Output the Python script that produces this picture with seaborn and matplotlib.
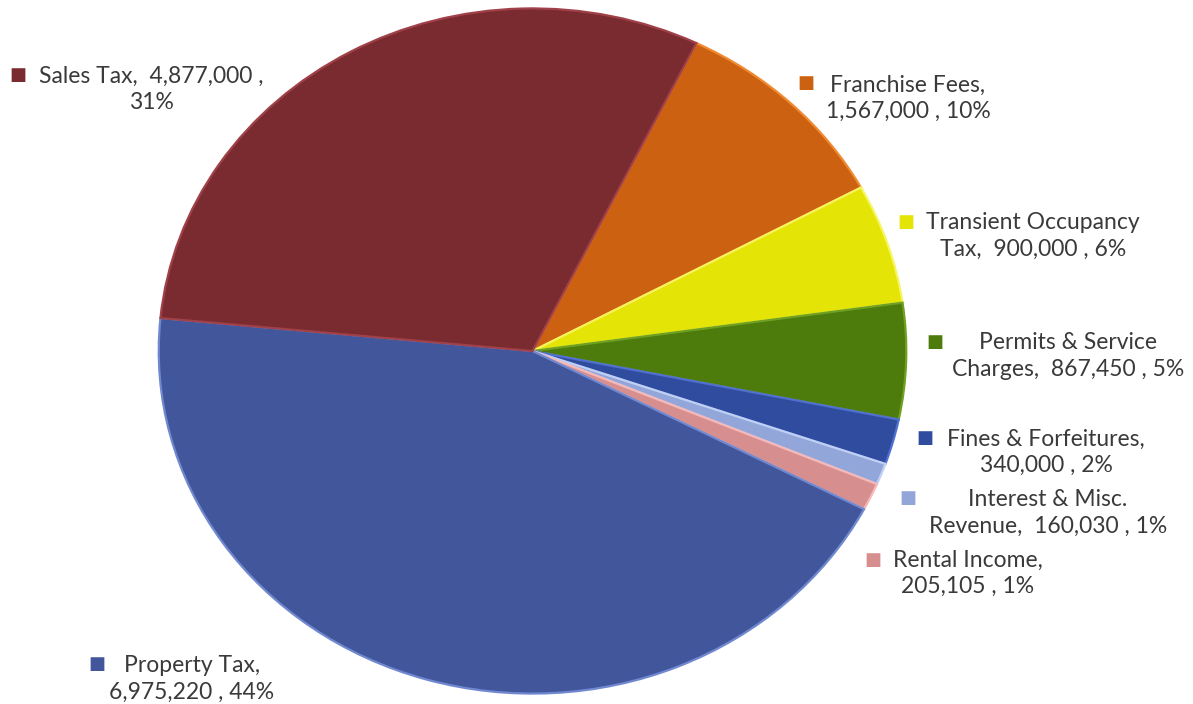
import matplotlib
matplotlib.use("Agg")
import matplotlib.pyplot as plt
import seaborn as sns

# data, clockwise order starting at the top-right
categories = ["Franchise Fees", "Transient Occupancy Tax", "Permits & Service Charges",
              "Fines & Forfeitures", "Interest & Misc. Revenue", "Rental Income",
              "Property Tax", "Sales Tax"]
values = [1567000, 900000, 867450, 340000, 160030, 205105, 6975220, 4877000]
percents = ["10%", "6%", "5%", "2%", "1%", "1%", "44%", "31%"]
colors = ["#CC6111", "#E4E406", "#4E7C0C", "#2F4C9E", "#93A6DA", "#D68E8E", "#42569C", "#7A2B2F"]
edges = ["#F08A30", "#F5F560", "#6FA020", "#5070D0", "#C0D0F5", "#F5B8B8", "#7088D0", "#A04048"]

# label text lines, layout (pixel centre of block, key marker position)
label_lines = [
    "Franchise Fees,\n1,567,000 , 10%",
    "Transient Occupancy\nTax,  900,000 , 6%",
    "Permits & Service\nCharges,  867,450 , 5%",
    "Fines & Forfeitures,\n340,000 , 2%",
    "Interest & Misc.\nRevenue,  160,030 , 1%",
    "Rental Income,\n205,105 , 1%",
    "Property Tax,\n6,975,220 , 44%",
    "Sales Tax,  4,877,000 ,\n31%",
]
label_pos = [(908, 98), (1033, 236), (1068, 356), (1046, 452), (1048, 513), (968, 573), (192, 679), (151, 89)]
key_pos = [(806, 83), (906, 222), (935, 342), (925, 438), (908, 498), (873, 560), (97, 664), (18, 75)]

sns.set_theme(style="white")
plt.rcParams["font.family"] = ["Lato", "DejaVu Sans"]

W, H = 1193, 704
fig = plt.figure(figsize=(W / 100, H / 100), dpi=100)
fig.patch.set_facecolor("white")

# pie box in pixels: left 155, right 910, top 5, bottom 697
ax = fig.add_axes([155 / W, 7 / H, 755 / W, 692 / H])
wedges, _ = ax.pie(values, colors=colors, startangle=64, counterclock=False,
                   wedgeprops=dict(linewidth=1.6))
for w, ec in zip(wedges, edges):
    w.set_edgecolor(ec)
ax.set_aspect("auto")
ax.set_xlim(-1.01, 1.01)
ax.set_ylim(-1.01, 1.01)
ax.axis("off")

for txt, (x, y), (kx, ky), c in zip(label_lines, label_pos, key_pos, colors):
    fig.text(x / W, 1 - y / H, txt, ha="center", va="center", multialignment="center",
             fontsize=16.5, color="#3A3A3A", linespacing=1.3)
    fig.text(kx / W, 1 - ky / H, "\u25A0", ha="center", va="center", fontsize=13,
             color=c, family="DejaVu Sans")

fig.savefig("out.png", dpi=100, facecolor="white")
